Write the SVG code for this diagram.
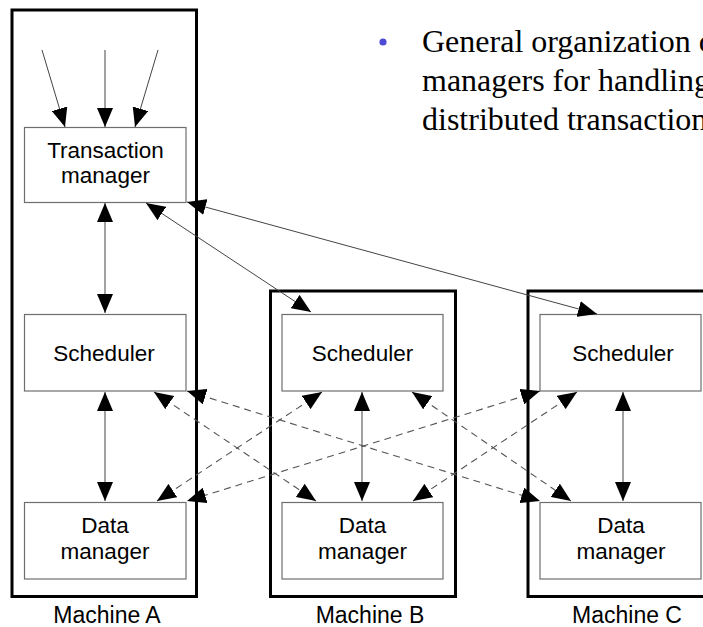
<svg xmlns="http://www.w3.org/2000/svg" width="703" height="627" viewBox="0 0 703 627">
<style>
.machine{fill:none;stroke:#000;stroke-width:3}
.box{fill:#fff;stroke:#6e6e6e;stroke-width:1.2}
.lbl{font-family:"Liberation Sans",Arial,sans-serif;font-size:22.5px;fill:#000;text-anchor:middle}
.mlbl{font-family:"Liberation Sans",Arial,sans-serif;font-size:23px;fill:#000;text-anchor:middle}
.bullet{font-family:"Liberation Serif","Times New Roman",serif;font-size:32px;fill:#000}
.solid{fill:none;stroke:#444;stroke-width:1}
.dash{fill:none;stroke:#555;stroke-width:1.1;stroke-dasharray:7 5}
</style>
<defs>
<marker id="ah" viewBox="0 0 19 16" refX="19" refY="8" markerWidth="19" markerHeight="16" markerUnits="userSpaceOnUse" orient="auto-start-reverse">
<path d="M0,0 L19,8 L0,16 Z" fill="#000"/>
</marker>
</defs>
<rect width="703" height="627" fill="#fff"/>

<g id="bullet-text">
<circle cx="383" cy="42" r="3.6" fill="#4b4bd6"/>
<text class="bullet" x="422" y="52">General organization o</text>
<text class="bullet" x="422" y="91">managers for handling</text>
<text class="bullet" x="422" y="130">distributed transaction</text>
</g>

<g id="machine-a">
<rect class="machine" x="12" y="10" width="184.5" height="586.5"/>
<text class="mlbl" x="107" y="623">Machine A</text>
</g>
<g id="machine-b">
<rect class="machine" x="270.5" y="291" width="185" height="305.5"/>
<text class="mlbl" x="370" y="623">Machine B</text>
</g>
<g id="machine-c">
<rect class="machine" x="528" y="291" width="190" height="305.5"/>
<text class="mlbl" x="627" y="623">Machine C</text>
</g>

<g id="tm-a">
<rect class="box" x="24.5" y="127.5" width="161.5" height="75"/>
<text class="lbl" x="105.5" y="158">Transaction</text>
<text class="lbl" x="105.5" y="183">manager</text>
</g>
<g id="sched-a">
<rect class="box" x="24.5" y="314.5" width="161.5" height="76.5"/>
<text class="lbl" x="104" y="361">Scheduler</text>
</g>
<g id="dm-a">
<rect class="box" x="24.5" y="502.5" width="161.5" height="76.5"/>
<text class="lbl" x="105" y="533">Data</text>
<text class="lbl" x="105" y="559">manager</text>
</g>
<g id="sched-b">
<rect class="box" x="282" y="314.5" width="161" height="76.5"/>
<text class="lbl" x="362.5" y="361">Scheduler</text>
</g>
<g id="dm-b">
<rect class="box" x="282" y="502.5" width="161" height="76.5"/>
<text class="lbl" x="362.5" y="533">Data</text>
<text class="lbl" x="362.5" y="559">manager</text>
</g>
<g id="sched-c">
<rect class="box" x="540" y="314.5" width="161" height="76.5"/>
<text class="lbl" x="623" y="361">Scheduler</text>
</g>
<g id="dm-c">
<rect class="box" x="540" y="502.5" width="161" height="76.5"/>
<text class="lbl" x="621" y="533">Data</text>
<text class="lbl" x="621" y="559">manager</text>
</g>

<g id="connectors">
<line class="solid" x1="42" y1="50" x2="65" y2="127" marker-end="url(#ah)"/>
<line class="solid" x1="105" y1="50" x2="105" y2="127" marker-end="url(#ah)"/>
<line class="solid" x1="158" y1="50" x2="135" y2="127" marker-end="url(#ah)"/>
<line class="solid" x1="105" y1="203" x2="105" y2="313" marker-start="url(#ah)" marker-end="url(#ah)"/>
<line class="solid" x1="146" y1="203" x2="311" y2="312" marker-start="url(#ah)" marker-end="url(#ah)"/>
<line class="solid" x1="187" y1="202" x2="597" y2="314" marker-start="url(#ah)" marker-end="url(#ah)"/>
<line class="solid" x1="105" y1="392" x2="105" y2="501" marker-start="url(#ah)" marker-end="url(#ah)"/>
<line class="solid" x1="362" y1="392" x2="362" y2="501" marker-start="url(#ah)" marker-end="url(#ah)"/>
<line class="solid" x1="623" y1="392" x2="623" y2="501" marker-start="url(#ah)" marker-end="url(#ah)"/>
<line class="dash" x1="154" y1="392" x2="316" y2="501" marker-start="url(#ah)" marker-end="url(#ah)"/>
<line class="dash" x1="187" y1="391" x2="540" y2="501" marker-start="url(#ah)" marker-end="url(#ah)"/>
<line class="dash" x1="322" y1="392" x2="157" y2="501" marker-start="url(#ah)" marker-end="url(#ah)"/>
<line class="dash" x1="540" y1="391" x2="187" y2="501" marker-start="url(#ah)" marker-end="url(#ah)"/>
<line class="dash" x1="412" y1="392" x2="571" y2="501" marker-start="url(#ah)" marker-end="url(#ah)"/>
<line class="dash" x1="577" y1="392" x2="413" y2="501" marker-start="url(#ah)" marker-end="url(#ah)"/>
</g>
</svg>
